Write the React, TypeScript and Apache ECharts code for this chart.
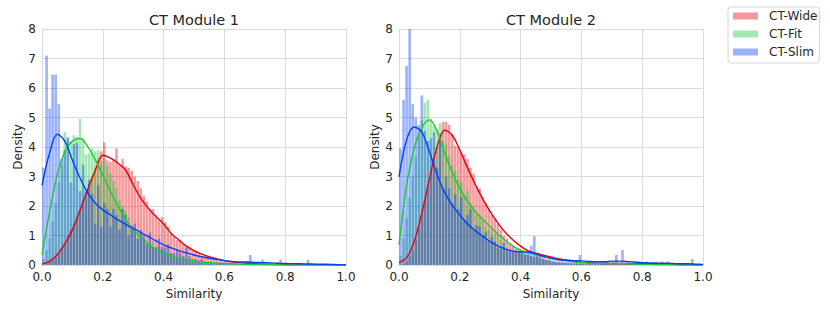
import React, { useEffect, useRef } from "react";
import * as echarts from "echarts";

// ---------- data ----------
const seriesNames = ["CT-Wide", "CT-Fit", "CT-Slim"];
const panelTitles = ["CT Module 1", "CT Module 2"];
const xTicks = [0, 0.2, 0.4, 0.6, 0.8, 1.0];
const yTicks = [0, 1, 2, 3, 4, 5, 6, 7, 8];
const binWidth = 0.01;

// histogram densities (100 bins of width 0.01, from 0 to 1)
const m1Wide = [
  0, 0.03, 0.1, 0.15, 0.25, 0.4, 0.55, 0.75, 1.0, 1.2,
  1.4, 1.65, 1.9, 2.2, 2.45, 2.75, 3.0, 3.3, 3.55, 3.85,
  4.15, 3.55, 3.5, 3.6, 3.95, 3.4, 3.6, 3.35, 3.3, 3.2,
  3.0, 2.85, 2.6, 2.35, 2.15, 1.9, 1.9, 1.7, 1.5, 1.62,
  1.45, 1.3, 1.05, 0.95, 0.85, 0.85, 0.7, 0.6, 0.62, 0.5,
  0.45, 0.38, 0.32, 0.3, 0.25, 0.22, 0.2, 0.17, 0.14, 0.12,
  0.11, 0.1, 0.08, 0.07, 0.06, 0.05, 0.04, 0.04, 0.03, 0.03,
  0.02, 0.02, 0.02, 0.01, 0.01, 0.01, 0.01, 0, 0, 0,
  0, 0, 0, 0, 0, 0, 0, 0, 0, 0,
  0, 0, 0, 0, 0, 0, 0, 0, 0, 0,
];
const m1Fit = [
  0.2, 0.5, 0.9, 1.5, 2.1, 2.8, 3.4, 4.5, 4.35, 4.2,
  4.4, 4.35, 4.95, 4.3, 3.75, 3.8, 3.95, 3.85, 3.9, 3.5,
  3.6, 3.35, 3.1, 2.85, 2.6, 2.2, 2.0, 1.85, 1.6, 1.35,
  1.2, 1.1, 1.05, 0.9, 0.8, 0.75, 0.8, 0.55, 0.6, 0.5,
  0.45, 0.4, 0.4, 0.3, 0.25, 0.25, 0.2, 0.2, 0.12, 0.1,
  0.1, 0.08, 0.07, 0.06, 0.05, 0.05, 0.04, 0.04, 0.03, 0.03,
  0.03, 0.02, 0.02, 0.02, 0.02, 0.01, 0.01, 0.01, 0.01, 0.01,
  0, 0, 0, 0, 0, 0, 0, 0, 0, 0,
  0, 0, 0, 0, 0, 0, 0, 0, 0, 0,
  0, 0, 0, 0, 0, 0, 0, 0, 0, 0,
];
const m1Slim = [
  3.3, 7.1, 5.3, 6.45, 6.45, 5.45, 3.6, 3.9, 4.3, 2.8,
  4.1, 4.15, 2.5, 3.4, 2.5, 2.9, 2.4, 1.4, 2.7, 1.3,
  2.1, 1.9, 1.3, 1.9, 1.7, 1.2, 1.9, 1.7, 1.0, 1.3,
  1.4, 0.9, 1.2, 1.0, 0.7, 1.1, 0.6, 0.6, 0.9, 0.6,
  0.6, 0.7, 0.4, 0.4, 0.5, 0.4, 0.3, 0.6, 0.3, 0.2,
  0.2, 0.15, 0.2, 0.1, 0.1, 0.12, 0.08, 0.06, 0.05, 0.05,
  0.04, 0.04, 0.03, 0.03, 0.03, 0.03, 0.04, 0.14, 0.34, 0.03,
  0.03, 0.03, 0.18, 0.03, 0.02, 0.02, 0.02, 0.02, 0.18, 0.02,
  0.02, 0.02, 0.02, 0.02, 0.02, 0.02, 0.02, 0.18, 0.02, 0.02,
  0.01, 0.01, 0.01, 0.01, 0.01, 0.01, 0.01, 0.01, 0, 0,
];
const m2Wide = [
  0, 0.05, 0.12, 0.3, 0.5, 0.85, 1.25, 1.7, 2.2, 2.7,
  3.2, 3.6, 4.0, 4.4, 4.85, 4.85, 4.75, 4.45, 4.05, 4.0,
  3.8, 3.75, 3.6, 3.3, 3.1, 2.65, 2.6, 2.3, 2.1, 1.9,
  1.7, 1.55, 1.4, 1.2, 1.0, 0.9, 0.75, 0.65, 0.55, 0.5,
  0.45, 0.4, 0.35, 0.3, 0.28, 0.3, 0.25, 0.2, 0.17, 0.15,
  0.12, 0.1, 0.09, 0.08, 0.07, 0.06, 0.06, 0.05, 0.05, 0.05,
  0.04, 0.04, 0.04, 0.04, 0.04, 0.04, 0.04, 0.04, 0.04, 0.04,
  0.04, 0.04, 0.04, 0.04, 0.04, 0.04, 0.04, 0.04, 0.04, 0.04,
  0.04, 0.03, 0.03, 0.03, 0.03, 0.03, 0.03, 0.02, 0.02, 0.02,
  0.02, 0.01, 0.01, 0.01, 0.01, 0, 0, 0, 0, 0,
];
const m2Fit = [
  0.3, 0.9, 1.6, 2.3, 3.0, 3.7, 4.4, 4.9, 5.5, 5.6,
  4.95, 4.7, 4.6, 4.8, 4.2, 4.1, 3.7, 3.4, 3.2, 2.9,
  2.8, 2.4, 2.5, 2.1, 2.0, 1.7, 1.7, 1.5, 1.3, 1.2,
  1.15, 1.05, 1.0, 0.85, 0.75, 0.6, 0.55, 0.5, 0.45, 0.4,
  0.4, 0.38, 0.33, 0.3, 0.27, 0.25, 0.2, 0.17, 0.14, 0.12,
  0.1, 0.08, 0.07, 0.06, 0.06, 0.05, 0.05, 0.04, 0.04, 0.04,
  0.03, 0.03, 0.03, 0.03, 0.03, 0.03, 0.02, 0.02, 0.02, 0.02,
  0.02, 0.02, 0.01, 0.01, 0.01, 0.01, 0.01, 0, 0, 0,
  0, 0, 0, 0, 0, 0, 0, 0, 0, 0,
  0, 0, 0, 0, 0, 0, 0, 0, 0, 0,
];
const m2Slim = [
  3.95, 5.6, 6.75, 8.0, 5.45, 5.0, 4.75, 5.75, 4.55, 4.2,
  4.3, 4.5, 3.3, 4.35, 2.6, 3.0, 2.6, 2.1, 2.4, 1.9,
  2.3, 1.5, 1.7, 1.9, 1.2, 1.35, 1.3, 1.0, 1.1, 0.8,
  0.95, 0.8, 0.6, 0.55, 0.75, 0.5, 0.45, 0.45, 0.5, 0.45,
  0.4, 0.35, 0.5, 0.65, 0.98, 0.35, 0.3, 0.25, 0.2, 0.2,
  0.15, 0.15, 0.12, 0.12, 0.1, 0.1, 0.1, 0.08, 0.1, 0.34,
  0.06, 0.05, 0.05, 0.05, 0.05, 0.06, 0.12, 0.1, 0.12, 0.06,
  0.12, 0.34, 0.06, 0.51, 0.12, 0.12, 0.06, 0.05, 0.05, 0.05,
  0.05, 0.12, 0.04, 0.04, 0.12, 0.04, 0.12, 0.04, 0.12, 0.04,
  0.03, 0.03, 0.03, 0.03, 0.03, 0.03, 0.2, 0.02, 0.02, 0.01,
];

// KDE curves sampled every 0.025 from 0 to 1
const kdeX = [
  0, 0.025, 0.05, 0.075, 0.1, 0.125, 0.15, 0.175, 0.2, 0.225,
  0.25, 0.275, 0.3, 0.325, 0.35, 0.375, 0.4, 0.425, 0.45, 0.475,
  0.5, 0.525, 0.55, 0.575, 0.6, 0.625, 0.65, 0.675, 0.7, 0.725,
  0.75, 0.775, 0.8, 0.825, 0.85, 0.875, 0.9, 0.925, 0.95, 0.975, 1.0,
];
const m1WideKde = [
  0.03, 0.12, 0.35, 0.72, 1.19, 1.85, 2.55, 3.2, 3.72, 3.62,
  3.45, 3.22, 2.72, 2.26, 1.92, 1.64, 1.39, 1.07, 0.85, 0.64,
  0.49, 0.37, 0.28, 0.21, 0.15, 0.11, 0.08, 0.06, 0.04, 0.03,
  0.02, 0.015, 0.01, 0.008, 0.006, 0.005, 0.004, 0.003, 0.002, 0.001, 0,
];
const m1FitKde = [
  0.34, 1.8, 3.05, 3.85, 4.2, 4.29, 4.02, 3.57, 3.05, 2.5,
  2.0, 1.55, 1.19, 0.95, 0.72, 0.52, 0.4, 0.31, 0.24, 0.19,
  0.14, 0.1, 0.08, 0.06, 0.05, 0.04, 0.03, 0.02, 0.015, 0.01,
  0.008, 0.006, 0.005, 0.004, 0.003, 0.002, 0.001, 0, 0, 0, 0,
];
const m1SlimKde = [
  2.7, 3.8, 4.43, 4.2, 3.55, 2.95, 2.45, 2.1, 1.87, 1.7,
  1.53, 1.38, 1.24, 1.1, 0.96, 0.82, 0.68, 0.58, 0.49, 0.41,
  0.34, 0.28, 0.23, 0.19, 0.15, 0.12, 0.1, 0.1, 0.09, 0.08,
  0.07, 0.06, 0.05, 0.045, 0.04, 0.035, 0.03, 0.025, 0.02, 0.01, 0.005,
];
const m2WideKde = [
  0.08, 0.25, 0.8, 1.75, 2.9, 4.0, 4.57, 4.4, 3.9, 3.3,
  2.75, 2.25, 1.81, 1.43, 1.1, 0.85, 0.64, 0.48, 0.4, 0.33,
  0.27, 0.21, 0.16, 0.12, 0.09, 0.07, 0.06, 0.05, 0.05, 0.05,
  0.04, 0.04, 0.04, 0.04, 0.04, 0.03, 0.02, 0.01, 0.005, 0.002, 0,
];
const m2FitKde = [
  0.68, 2.7, 3.95, 4.65, 4.92, 4.55, 3.8, 3.15, 2.6, 2.17,
  1.82, 1.55, 1.3, 1.05, 0.83, 0.64, 0.5, 0.42, 0.34, 0.28,
  0.23, 0.18, 0.14, 0.11, 0.08, 0.07, 0.06, 0.05, 0.05, 0.05,
  0.04, 0.03, 0.02, 0.02, 0.01, 0.01, 0.005, 0.003, 0.002, 0.001, 0,
];
const m2SlimKde = [
  2.99, 4.24, 4.68, 4.5, 3.85, 3.08, 2.46, 2.03, 1.7, 1.4,
  1.17, 0.98, 0.79, 0.65, 0.54, 0.47, 0.44, 0.43, 0.38, 0.29,
  0.23, 0.18, 0.16, 0.15, 0.14, 0.12, 0.11, 0.11, 0.13, 0.13,
  0.12, 0.1, 0.08, 0.07, 0.06, 0.06, 0.05, 0.04, 0.04, 0.03, 0.02,
];

const panels = [
  { hist: [m1Wide, m1Fit, m1Slim], kde: [m1WideKde, m1FitKde, m1SlimKde] },
  { hist: [m2Wide, m2Fit, m2Slim], kde: [m2WideKde, m2FitKde, m2SlimKde] },
];

// ---------- styling ----------
const FONT = "DejaVu Sans";
const TEXT = "#262626";
const GRID = "#dadada";
const lineColors = ["#e8000b", "#1ac938", "#023eff"];
const barColors = ["rgba(232,0,11,0.4)", "rgba(26,201,56,0.4)", "rgba(2,62,255,0.4)"];
const gridLefts = [42, 399];
const titleCenters = [194, 551];

export default function App() {
  const ref = useRef<HTMLDivElement>(null);
  useEffect(() => {
    if (!ref.current) return;
    const chart = echarts.init(ref.current, null, { renderer: "svg" });

    const grids = gridLefts.map((l) => ({ left: l, top: 29, width: 304, height: 236 }));
    const xAxes = gridLefts.map((_, i) => ({
      type: "value",
      gridIndex: i,
      min: 0,
      max: 1,
      interval: 0.2,
      name: "Similarity",
      nameLocation: "middle",
      nameGap: 17,
      nameTextStyle: { fontSize: 12, color: TEXT, fontFamily: FONT },
      axisLine: { show: false },
      axisTick: { show: false },
      splitLine: { show: true, lineStyle: { color: GRID, width: 1 } },
      axisLabel: {
        margin: 6,
        fontSize: 12,
        color: TEXT,
        fontFamily: FONT,
        formatter: (v: number) => (xTicks.includes(Math.round(v * 10) / 10) ? v.toFixed(1) : ""),
      },
    }));
    const yAxes = gridLefts.map((_, i) => ({
      type: "value",
      gridIndex: i,
      min: yTicks[0],
      max: yTicks[yTicks.length - 1],
      interval: 1,
      name: "Density",
      nameLocation: "middle",
      nameGap: 15,
      nameTextStyle: { fontSize: 12, color: TEXT, fontFamily: FONT },
      axisLine: { show: false },
      axisTick: { show: false },
      splitLine: { show: true, lineStyle: { color: GRID, width: 1 } },
      axisLabel: { margin: 6, fontSize: 12, color: TEXT, fontFamily: FONT },
    }));

    const series: any[] = [];
    panels.forEach((p, pi) => {
      p.hist.forEach((vals, si) => {
        series.push({
          type: "bar",
          name: seriesNames[si],
          xAxisIndex: pi,
          yAxisIndex: pi,
          barWidth: 2.6,
          barGap: "-100%",
          itemStyle: { color: barColors[si] },
          emphasis: { disabled: true },
          data: vals.map((v, i) => [i * binWidth + binWidth / 2, v]),
        });
      });
    });
    panels.forEach((p, pi) => {
      p.kde.forEach((vals, si) => {
        series.push({
          type: "line",
          name: seriesNames[si] + " kde",
          xAxisIndex: pi,
          yAxisIndex: pi,
          smooth: 0.35,
          showSymbol: false,
          symbol: "none",
          lineStyle: { color: lineColors[si], width: 1.4 },
          itemStyle: { color: lineColors[si] },
          emphasis: { disabled: true },
          data: vals.map((v, i) => [kdeX[i], v]),
        });
      });
    });

    chart.setOption({
      animation: false,
      backgroundColor: "#ffffff",
      textStyle: { fontFamily: FONT },
      title: panelTitles.map((t, i) => ({
        text: t,
        left: titleCenters[i],
        top: 12,
        padding: 0,
        textAlign: "center",
        textStyle: { fontSize: 14.5, fontWeight: "normal", color: TEXT, fontFamily: FONT },
      })),
      legend: {
        data: seriesNames,
        orient: "vertical",
        left: 728,
        top: 7,
        icon: "rect",
        itemWidth: 25,
        itemHeight: 7,
        itemGap: 4,
        padding: [2, 2, 4, 5],
        borderColor: "#d4d4d4",
        borderWidth: 1,
        borderRadius: 3,
        selectedMode: false,
        textStyle: { fontSize: 12, color: TEXT, fontFamily: FONT, lineHeight: 14, padding: [0, 0, 0, 6] },
      },
      grid: grids,
      xAxis: xAxes,
      yAxis: yAxes,
      series,
    });
    return () => chart.dispose();
  }, []);
  return (
    <div
      ref={ref}
      style={{ position: "fixed", left: 0, top: 0, width: 830, height: 312, background: "#fff" }}
    />
  );
}
